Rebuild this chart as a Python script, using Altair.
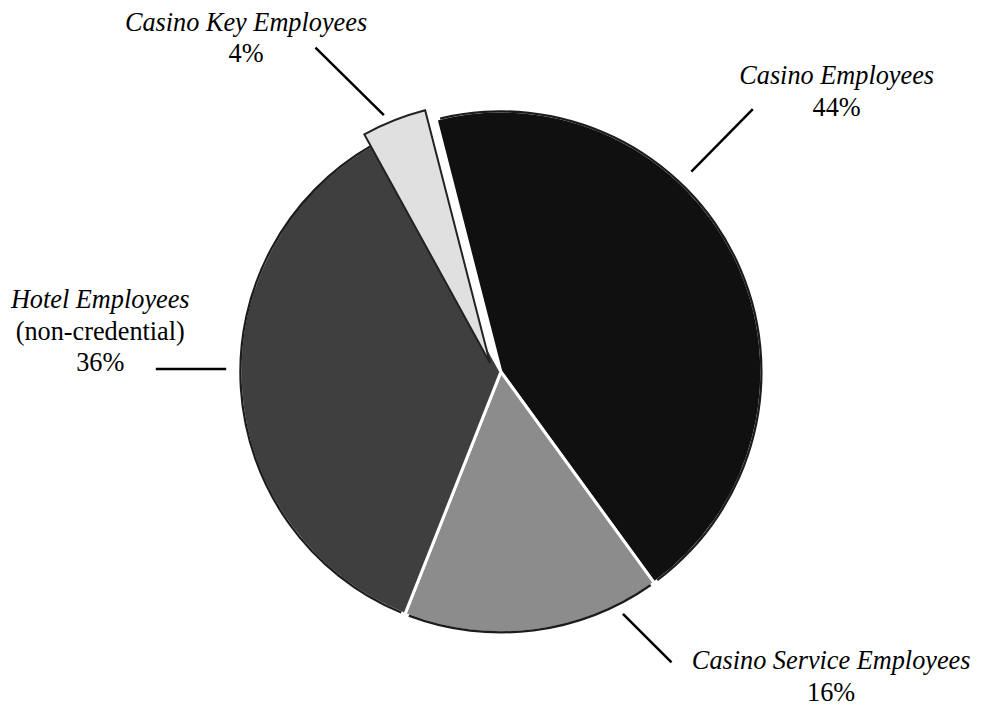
import math
import altair as alt
import pandas as pd

# ---------------- data ----------------
categories = ["Casino Employees", "Casino Service Employees", "Hotel Employees", "Casino Key Employees"]
shares = [44, 16, 36, 4]
subtitles = ["", "", "(non-credential)", ""]
exploded = "Casino Key Employees"

# ---------------- style / layout ----------------
fills = ["#101010", "#8c8c8c", "#3f3f3f", "#e0e0e0"]
W, H = 974, 701
CX, CY = 497, 364          # pie centre inside plot area (px)
R = 263                    # pie radius (px)
START = -0.2513            # rotation of the first slice (rad)
FONT = "Liberation Serif"
FS = 26.5
LINE = 31.5

# label anchors in pie-centred pixels (y up)
label_anchor_x = [338.5, 333, -404, -257]
label_anchor_y = [290, -300, 64, 344]
# leader lines in pie-centred pixels (y up)
leader_x = [254, 123, -348, -187]
leader_y = [265, -244, 3, 327]
leader_x2 = [192, 172, -277, -118]
leader_y2 = [202, -293, 3, 259]

pie = pd.DataFrame({"category": categories, "share": shares, "order": list(range(len(categories)))})

xs = alt.Scale(domain=[-CX, W - CX], nice=False, zero=False)
ys = alt.Scale(domain=[CY - H, CY], nice=False, zero=False)
ts = alt.Scale(domain=[0, 100], range=[START, START + 2 * math.pi])
fill = alt.Color("category:N", scale=alt.Scale(domain=categories, range=fills), legend=None)

xc = alt.XDatum(0, scale=xs, axis=None)
yc = alt.YDatum(0, scale=ys, axis=None)

base = alt.Chart(pie).transform_window(
    cum="sum(share)", sort=[{"field": "order"}], frame=[None, 0]
).transform_calculate(start="datum.cum - datum.share")

slices = base.transform_filter(alt.datum.category != exploded).mark_arc(
    outerRadius=R, stroke="white", strokeWidth=3
).encode(
    theta=alt.Theta("start:Q", scale=ts),
    theta2="cum:Q",
    color=fill,
    x=xc, y=yc,
)

ring = base.transform_filter(alt.datum.category != exploded).transform_calculate(
    rs="datum.start + 0.25", re="datum.cum - 0.25"
).mark_arc(innerRadius=R - 1.5, outerRadius=R + 0.8, color="#1c1c1c").encode(
    theta=alt.Theta("rs:Q", scale=ts),
    theta2="re:Q",
    x=xc, y=yc,
)

key = base.transform_filter(alt.datum.category == exploded).mark_arc(
    outerRadius=R, stroke="#222222", strokeWidth=2, xOffset=-11, yOffset=-9
).encode(
    theta=alt.Theta("start:Q", scale=ts),
    theta2="cum:Q",
    color=fill,
    x=xc, y=yc,
)

leaders_df = pd.DataFrame({"x": leader_x, "y": leader_y, "x2": leader_x2, "y2": leader_y2})
leaders = alt.Chart(leaders_df).mark_rule(strokeWidth=2.5, color="black").encode(
    x=alt.X("x:Q", scale=xs, axis=None),
    y=alt.Y("y:Q", scale=ys, axis=None),
    x2="x2:Q", y2="y2:Q",
)

italic_rows, normal_rows = [], []
for cat, val, sub, ax, ay in zip(categories, shares, subtitles, label_anchor_x, label_anchor_y):
    italic_rows.append({"t": cat, "x": ax, "y": ay})
    yy = ay - LINE
    if sub:
        normal_rows.append({"t": sub, "x": ax, "y": yy})
        yy -= LINE
    normal_rows.append({"t": f"{val}%", "x": ax, "y": yy})

def text_layer(rows, style):
    return alt.Chart(pd.DataFrame(rows)).mark_text(
        font=FONT, fontSize=FS, fontStyle=style, align="center", baseline="alphabetic", color="black"
    ).encode(
        x=alt.X("x:Q", scale=xs, axis=None),
        y=alt.Y("y:Q", scale=ys, axis=None),
        text="t:N",
    )

chart = alt.layer(
    slices, ring, key, leaders, text_layer(italic_rows, "italic"), text_layer(normal_rows, "normal")
).properties(
    width=W, height=H, padding=0, autosize=alt.AutoSizeParams(type="none"), background="white"
).configure_view(stroke=None)

chart.save("out.html", embed_options={"renderer": "svg", "actions": False})
